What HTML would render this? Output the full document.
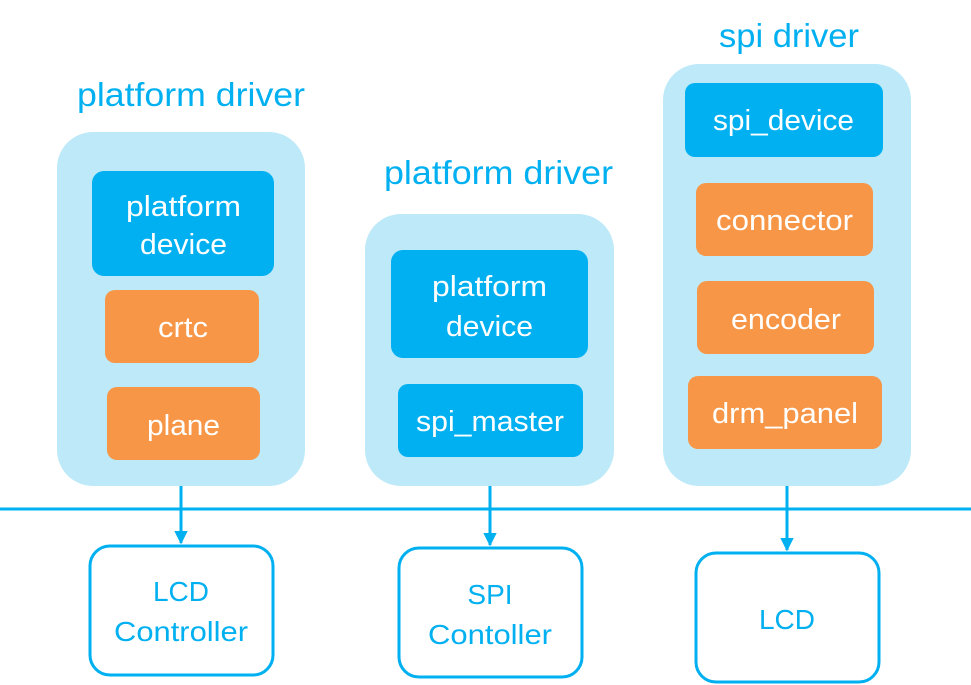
<!DOCTYPE html>
<html><head><meta charset="utf-8"><style>html,body{margin:0;padding:0;background:#fff}svg{display:block}</style></head>
<body>
<svg width="971" height="685" viewBox="0 0 971 685" xmlns="http://www.w3.org/2000/svg" font-family="Liberation Sans, sans-serif">
<defs><marker id="a" viewBox="0 0 10 10" refX="9" refY="5" markerWidth="4.5" markerHeight="4.5" orient="auto"><path d="M0,0L10,5L0,10z" fill="#00B0F0"/></marker></defs>
<g fill="#BDE9F9">
<rect x="57" y="132" width="248" height="354" rx="36"/>
<rect x="365" y="214" width="249" height="272" rx="36"/>
<rect x="663" y="64" width="248" height="422" rx="36"/>
</g>
<g fill="#00B0F0">
<rect x="92" y="171" width="182" height="105" rx="12"/>
<rect x="391" y="250" width="197" height="108" rx="12"/>
<rect x="398" y="384" width="185" height="73" rx="10"/>
<rect x="685" y="83" width="198" height="74" rx="10"/>
</g>
<g fill="#F79646">
<rect x="105" y="290" width="154" height="73" rx="10"/>
<rect x="107" y="387" width="153" height="73" rx="10"/>
<rect x="696" y="183" width="177" height="73" rx="10"/>
<rect x="697" y="281" width="177" height="73" rx="10"/>
<rect x="688" y="376" width="194" height="73" rx="10"/>
</g>
<line x1="0" y1="509" x2="971" y2="509" stroke="#00B0F0" stroke-width="3"/>
<g stroke="#00B0F0" stroke-width="3">
<line x1="181" y1="486" x2="181" y2="543" marker-end="url(#a)"/>
<line x1="490" y1="486" x2="490" y2="545" marker-end="url(#a)"/>
<line x1="787" y1="486" x2="787" y2="550" marker-end="url(#a)"/>
<g fill="none">
<rect x="90" y="546" width="183" height="129" rx="20"/>
<rect x="399" y="548" width="183" height="129" rx="20"/>
<rect x="696" y="553" width="183" height="129" rx="20"/>
</g>
</g>
<g fill="#00B0F0" font-size="33">
<text x="77" y="106" textLength="228" lengthAdjust="spacingAndGlyphs">platform driver</text>
<text x="384" y="184" textLength="229" lengthAdjust="spacingAndGlyphs">platform driver</text>
<text x="719" y="47" textLength="140" lengthAdjust="spacingAndGlyphs">spi driver</text>
</g>
<g fill="#fff" font-size="29">
<text x="126" y="216" textLength="115" lengthAdjust="spacingAndGlyphs">platform</text>
<text x="140" y="254" textLength="87" lengthAdjust="spacingAndGlyphs">device</text>
<text x="158" y="337" textLength="50" lengthAdjust="spacingAndGlyphs">crtc</text>
<text x="147" y="435" textLength="73" lengthAdjust="spacingAndGlyphs">plane</text>
<text x="432" y="296" textLength="115" lengthAdjust="spacingAndGlyphs">platform</text>
<text x="446" y="336" textLength="87" lengthAdjust="spacingAndGlyphs">device</text>
<text x="416" y="431" textLength="148" lengthAdjust="spacingAndGlyphs">spi_master</text>
<text x="713" y="130" textLength="141" lengthAdjust="spacingAndGlyphs">spi_device</text>
<text x="716" y="230" textLength="137" lengthAdjust="spacingAndGlyphs">connector</text>
<text x="731" y="329" textLength="110" lengthAdjust="spacingAndGlyphs">encoder</text>
<text x="712" y="423" textLength="146" lengthAdjust="spacingAndGlyphs">drm_panel</text>
</g>
<g fill="#00B0F0" font-size="28" text-anchor="middle">
<text x="181" y="601">LCD</text>
<text x="181" y="641" textLength="134" lengthAdjust="spacingAndGlyphs">Controller</text>
<text x="490" y="604">SPI</text>
<text x="490" y="644" textLength="124" lengthAdjust="spacingAndGlyphs">Contoller</text>
<text x="787" y="629">LCD</text>
</g>
</svg>
</body></html>
